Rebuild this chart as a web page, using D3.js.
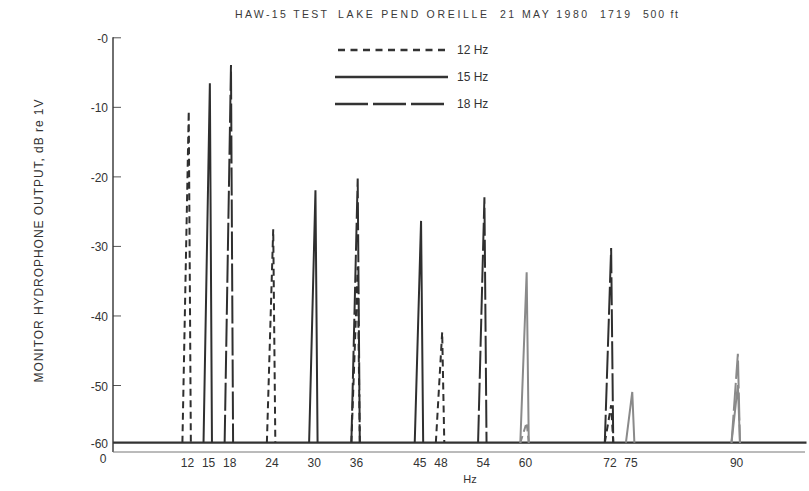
<!DOCTYPE html>
<html>
<head>
<meta charset="utf-8">
<script src="https://cdn.jsdelivr.net/npm/d3@7"></script>
<style>
  html, body { margin: 0; padding: 0; background: #fff; }
  svg { display: block; }
  text { font-family: "Liberation Sans", Arial, sans-serif; fill: #333; }
</style>
</head>
<body>
<svg id="chart" width="809" height="491"></svg>
<script>
// ---------------- data ----------------
const titleParts = ["HAW-15 TEST", "LAKE PEND OREILLE", "21 MAY 1980", "1719", "500 ft"];
const yTicks = [0, -10, -20, -30, -40, -50, -60];
const xTicks = [0, 12, 15, 18, 24, 30, 36, 45, 48, 54, 60, 72, 75, 90];
const noiseFloor = -60;
const seriesNames = ["12 Hz", "15 Hz", "18 Hz"];
// peak frequencies (Hz) and levels (dB re 1V) for each source frequency
const peaks12Freq = [12, 24, 36, 48, 60, 72];
const peaks12Db   = [-10.6, -27.6, -33, -42.4, -56.5, -53.5];
const peaks15Freq = [15, 30, 45, 60, 75, 90];
const peaks15Db   = [-6.6, -22.0, -26.4, -33.8, -51.2, -50.0];
const peaks18Freq = [18, 36, 54, 72, 90];
const peaks18Db   = [-4.0, -20.3, -23.0, -30.3, -45.5];

// ---------------- layout ----------------
const svg = d3.select("#chart");
const x = d3.scaleLinear().domain([0, 100]).range([102.5, 806.5]);
const y = d3.scaleLinear().domain([-60, -50, 0]).range([442.7, 385, 37.3]);
const axisX = 113;
const bottomY = 452;

const dashes = { "12 Hz": "7,4.5", "15 Hz": null, "18 Hz": "28,4" };
const faint = new Set([60, 75, 90]);

// title
const title = svg.append("text").attr("y", 18).style("font-size", "10.5px").style("fill", "#3a3a3a");
const titleX = [235, 338, 500, 600, 643];
const titleW = [92, 149, 87, 30, 35];
titleParts.forEach((t, i) => {
  title.append("tspan").attr("x", titleX[i]).attr("textLength", titleW[i])
    .attr("lengthAdjust", "spacing").text(t);
});

// y axis
const yAxis = d3.axisLeft(y).tickValues(yTicks)
  .tickFormat(d => "-" + Math.abs(d))
  .tickSizeInner(-8).tickSizeOuter(0).tickPadding(5);
const gy = svg.append("g").attr("transform", `translate(${axisX},0)`).call(yAxis);
gy.select(".domain").remove();
gy.selectAll(".tick line").attr("stroke", "#555").attr("stroke-width", 1)
  .filter(d => d === -60).remove();
gy.selectAll(".tick text").style("font-size", "12px").style("font-family", "'Liberation Sans', Arial, sans-serif").attr("fill", "#333")
  .attr("dy", "0.42em");
svg.append("line").attr("x1", axisX).attr("x2", axisX).attr("y1", y(0)).attr("y2", bottomY)
  .attr("stroke", "#333").attr("stroke-width", 1.4);

// bottom axis line
svg.append("line").attr("x1", axisX).attr("x2", 805).attr("y1", bottomY).attr("y2", bottomY)
  .attr("stroke", "#777").attr("stroke-width", 1);

// x tick labels
const xAxis = d3.axisBottom(x).tickValues(xTicks).tickSize(0).tickPadding(6).tickFormat(d3.format("d"));
const gx = svg.append("g").attr("transform", `translate(0,${bottomY})`).call(xAxis);
gx.select(".domain").remove();
gx.selectAll(".tick text").style("font-size", "12px").style("font-family", "'Liberation Sans', Arial, sans-serif").attr("fill", "#333");
gx.selectAll(".tick").filter(d => d === 0).select("text").attr("dy", "0.45em");

svg.append("text").attr("x", 470).attr("y", 483).attr("text-anchor", "middle")
  .style("font-size", "11px").text("Hz");

// y title
svg.append("text")
  .attr("transform", "translate(43,241) rotate(-90)")
  .attr("text-anchor", "middle")
  .attr("textLength", 283).attr("lengthAdjust", "spacing")
  .style("font-size", "12px")
  .text("MONITOR HYDROPHONE OUTPUT, dB re 1V");

// noise floor
const line = d3.line().x(d => x(d[0])).y(d => y(d[1]));
svg.append("path").attr("d", line([[1.5, noiseFloor], [100, noiseFloor]]))
  .attr("fill", "none").attr("stroke", "#333").attr("stroke-width", 2.2);

// spikes
const series = [
  { name: "12 Hz", f: peaks12Freq, db: peaks12Db },
  { name: "15 Hz", f: peaks15Freq, db: peaks15Db },
  { name: "18 Hz", f: peaks18Freq, db: peaks18Db }
];
series.forEach(s => {
  s.f.forEach((f, i) => {
    const pts = [[f - 0.65, noiseFloor], [f + 0.25, s.db[i]], [f + 0.55, noiseFloor]];
    svg.append("path").attr("d", line(pts))
      .attr("fill", "none")
      .attr("stroke", faint.has(f) ? "#8a8a8a" : "#2f2f2f")
      .attr("stroke-width", 2)
      .attr("stroke-linejoin", "miter")
      .attr("stroke-dasharray", dashes[s.name]);
  });
});

// legend
const legY = [50, 77, 104];
const legX1 = [338, 335, 335];
seriesNames.forEach((n, i) => {
  svg.append("line").attr("x1", legX1[i]).attr("x2", 448).attr("y1", legY[i]).attr("y2", legY[i])
    .attr("stroke", "#333").attr("stroke-width", 2.5)
    .attr("stroke-dasharray", i === 0 ? "7,5.5" : (i === 2 ? "33,5" : null));
  svg.append("text").attr("x", 457).attr("y", legY[i] + 4).style("font-size", "12px").text(n);
});
</script>
</body>
</html>
